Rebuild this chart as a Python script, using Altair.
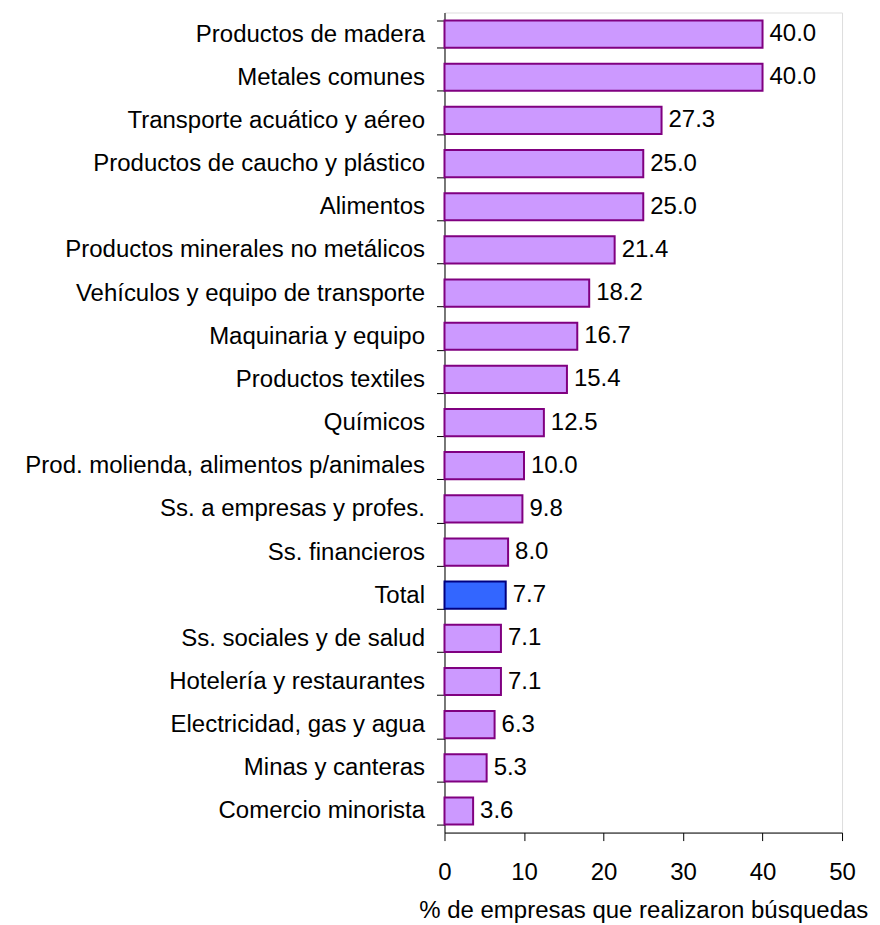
import altair as alt
import pandas as pd

categories = [
    "Productos de madera",
    "Metales comunes",
    "Transporte acuático y aéreo",
    "Productos de caucho y plástico",
    "Alimentos",
    "Productos minerales no metálicos",
    "Vehículos y equipo de transporte",
    "Maquinaria y equipo",
    "Productos textiles",
    "Químicos",
    "Prod. molienda, alimentos p/animales",
    "Ss. a empresas y profes.",
    "Ss. financieros",
    "Total",
    "Ss. sociales y de salud",
    "Hotelería y restaurantes",
    "Electricidad, gas y agua",
    "Minas y canteras",
    "Comercio minorista",
]
values = [40.0, 40.0, 27.3, 25.0, 25.0, 21.4, 18.2, 16.7, 15.4, 12.5,
          10.0, 9.8, 8.0, 7.7, 7.1, 7.1, 6.3, 5.3, 3.6]
x_ticks = [0, 10, 20, 30, 40, 50]

df = pd.DataFrame({"cat": categories, "val": values})

FONT = "Liberation Sans"
FS = 24

y_enc = alt.Y(
    "cat:N",
    sort=None,
    title=None,
    scale=alt.Scale(paddingInner=0.37, paddingOuter=0.185),
    axis=alt.Axis(
        tickBand="extent",
        tickSize=8,
        tickColor="black",
        domainColor="black",
        labelColor="black",
        labelFontSize=FS,
        labelFont=FONT,
        labelPadding=12,
        labelLimit=500,
    ),
)
x_enc = alt.X(
    "val:Q",
    title="% de empresas que realizaron búsquedas",
    scale=alt.Scale(domain=[0, 50], nice=False),
    axis=alt.Axis(
        values=x_ticks,
        grid=False,
        tickSize=8,
        tickColor="black",
        domainColor="black",
        labelColor="black",
        labelFontSize=FS,
        labelFont=FONT,
        labelPadding=20,
        labelFlush=False,
        labelOverlap=False,
        titleFontSize=FS,
        titleFont=FONT,
        titleFontWeight="normal",
        titleColor="black",
        titlePadding=14,
        format="d",
    ),
)

is_total = alt.datum.cat == "Total"

bars = alt.Chart(df).mark_bar(strokeWidth=2).encode(
    y=y_enc,
    x=x_enc,
    fill=alt.condition(is_total, alt.value("#3366FF"), alt.value("#CC99FF")),
    stroke=alt.condition(is_total, alt.value("#000080"), alt.value("#800080")),
)

labels = alt.Chart(df).mark_text(
    align="left", baseline="middle", dx=7, fontSize=FS, font=FONT, color="black"
).encode(
    y=alt.Y("cat:N", sort=None),
    x="val:Q",
    text=alt.Text("val:Q", format=".1f"),
)

chart = (
    alt.layer(bars, labels)
    .properties(
        width=398,
        height=821,
        autosize=alt.AutoSizeParams(type="none"),
        padding={"left": 437, "top": 4, "right": 30, "bottom": 90},
        background="white",
    )
    .configure_view(stroke=None)
    .configure(font=FONT)
)

chart.save("out.html", embed_options={"renderer": "svg", "actions": False})
